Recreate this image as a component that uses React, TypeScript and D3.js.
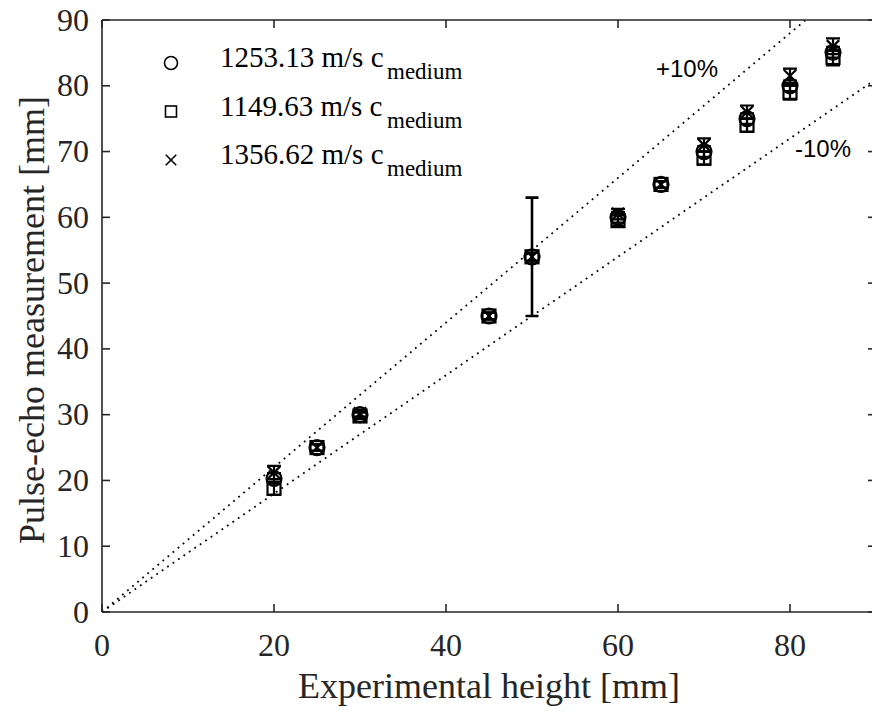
import React from "react";
import * as d3 from "d3";

const heights = [20, 25, 30, 45, 50, 60, 65, 70, 75, 80, 85];
const circleVals = [20.3, 25, 30, 45, 54, 60, 65, 70, 75, 80, 85.1];
const circleErr = [0.8, 0.5, 0.5, 0.5, 9, 0.8, 0.5, 0.8, 0.8, 0.8, 0.8];
const squareVals = [18.8, 25, 29.8, 45, 54, 59.5, 65, 69, 74, 79, 84.3];
const squareErr = [1, 0.5, 0.5, 0.5, 0.6, 0.8, 0.5, 1, 1, 1.1, 1.2];
const crossVals = [21.2, 25, 30.2, 45, 54, 60.5, 65, 71, 76, 81.5, 86];
const crossErr = [1, 0.5, 0.5, 0.5, 0.6, 0.8, 0.5, 1, 1, 1.1, 1.2];
const legendLabels = ["1253.13 m/s c", "1149.63 m/s c", "1356.62 m/s c"];
const xTicks = [0, 20, 40, 60, 80];
const yTicks = [0, 10, 20, 30, 40, 50, 60, 70, 80, 90];
const bandFactors = [1.1, 0.9];

const W = 872;
const H = 711;
const serif = "Liberation Serif";
const sans = "Liberation Sans";
const axisColor = "#262626";

function Marker({ kind, cx, cy, sw, size }: { kind: string; cx: number; cy: number; sw: number; size: number }) {
  const s = size / 2;
  if (kind === "circle") return <circle cx={cx} cy={cy} r={s} fill="none" stroke="#000" strokeWidth={sw} />;
  if (kind === "square") return <rect x={cx - s} y={cy - s} width={size} height={size} fill="none" stroke="#000" strokeWidth={sw} />;
  const c = s * 0.95;
  return (
    <path d={`M${cx - c},${cy - c}L${cx + c},${cy + c}M${cx - c},${cy + c}L${cx + c},${cy - c}`} stroke="#000" strokeWidth={sw} fill="none" />
  );
}

export default function App() {
  const x = d3.scaleLinear().domain([0, 90]).range([102, 876]);
  const y = d3.scaleLinear().domain([0, 90]).range([612, 20]);
  const series = [
    { kind: "circle", vals: circleVals, err: circleErr },
    { kind: "square", vals: squareVals, err: squareErr },
    { kind: "cross", vals: crossVals, err: crossErr },
  ];
  const line = d3.line<[number, number]>().x((d) => x(d[0])).y((d) => y(d[1]));
  const tick = 8;
  return (
    <svg width={W} height={H} style={{ position: "absolute", left: 0, top: 0, background: "#fff" }}>
      <defs>
        <clipPath id="plot">
          <rect x={x(0)} y={y(90)} width={x(90) - x(0)} height={y(0) - y(90)} />
        </clipPath>
      </defs>
      <rect x={0} y={0} width={W} height={H} fill="#fff" />
      <g clipPath="url(#plot)">
        {bandFactors.map((f, i) => (
          <path
            key={i}
            d={line([[0, 0], [90, 90 * f]]) || ""}
            fill="none"
            stroke="#000"
            strokeWidth={1.8}
            strokeDasharray="1.8 4.8"
          />
        ))}
      </g>
      <text x={656} y={77} fontFamily={sans} fontSize={24} fill="#000">+10%</text>
      <text x={795} y={157} fontFamily={sans} fontSize={24} fill="#000">-10%</text>
      <g stroke={axisColor} strokeWidth={1.6} fill="none">
        <path d={`M${x(0)},${y(90)}L${x(90)},${y(90)}`} />
        <path d={`M${x(0)},${y(0)}L${x(90)},${y(0)}`} />
        <path d={`M${x(0)},${y(0)}L${x(0)},${y(90)}`} />
        <path d={`M${x(90)},${y(0)}L${x(90)},${y(90)}`} />
        {xTicks.map((t) => (
          <g key={"xt" + t}>
            <path d={`M${x(t)},${y(0)}V${y(0) - tick}`} />
            <path d={`M${x(t)},${y(90)}V${y(90) + tick}`} />
          </g>
        ))}
        {yTicks.map((t) => (
          <g key={"yt" + t}>
            <path d={`M${x(0)},${y(t)}H${x(0) + tick}`} />
            <path d={`M${x(90)},${y(t)}H${x(90) - tick}`} />
          </g>
        ))}
      </g>
      {xTicks.map((t) => (
        <text key={"xl" + t} x={x(t)} y={656} textAnchor="middle" fontFamily={serif} fontSize={32} fill={axisColor}>
          {t}
        </text>
      ))}
      {yTicks.map((t) => (
        <text key={"yl" + t} x={89} y={y(t)} dy="0.33em" textAnchor="end" fontFamily={serif} fontSize={32} fill={axisColor}>
          {t}
        </text>
      ))}
      <text x={489} y={698} textAnchor="middle" fontFamily={serif} fontSize={36} fill={axisColor}>
        Experimental height [mm]
      </text>
      <text
        transform={`translate(44,${320}) rotate(-90)`}
        textAnchor="middle"
        fontFamily={serif}
        fontSize={36}
        fill={axisColor}
      >
        Pulse-echo measurement [mm]
      </text>
      {series.map((s) => (
        <g key={s.kind}>
          {heights.map((h, i) => {
            const cx = x(h);
            const top = y(s.vals[i] + s.err[i]);
            const bot = y(s.vals[i] - s.err[i]);
            const big = s.err[i] > 3;
            const cw = big ? 6.5 : 7;
            return (
              <path
                key={i}
                d={`M${cx},${top}V${bot}M${cx - cw},${top}H${cx + cw}M${cx - cw},${bot}H${cx + cw}`}
                stroke="#000"
                strokeWidth={big ? 2.6 : 2.2}
                fill="none"
              />
            );
          })}
          {heights.map((h, i) => (
            <Marker key={"m" + i} kind={s.kind} cx={x(h)} cy={y(s.vals[i])} sw={2.2} size={s.kind === "circle" ? 15 : 13} />
          ))}
        </g>
      ))}
      {series.map((s, i) => {
        const cy = 63 + i * 48.5;
        return (
          <g key={"lg" + i}>
            <Marker kind={s.kind} cx={171} cy={cy} sw={1.6} size={s.kind === "circle" ? 13 : 11} />
            <text x={220} y={cy + 4} fontFamily={serif} fontSize={29} fill="#000">
              {legendLabels[i]}
            </text>
            <text x={387} y={cy + 16} fontFamily={serif} fontSize={23} fill="#000">
              medium
            </text>
          </g>
        );
      })}
    </svg>
  );
}
